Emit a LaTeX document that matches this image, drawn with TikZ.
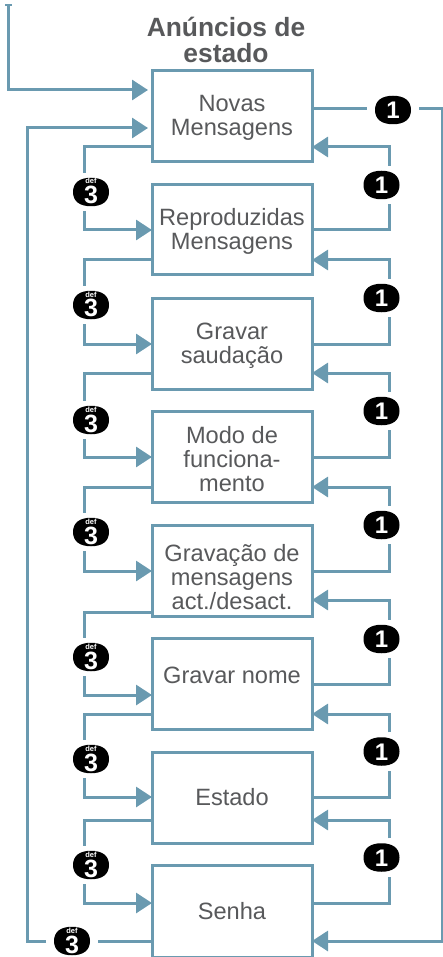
\documentclass[tikz,border=0pt]{standalone}
\usepackage{fontspec}
\setmainfont{Liberation Sans}
\usetikzlibrary{arrows.meta,calc}
\definecolor{wire}{HTML}{6A9AB0}
\definecolor{ink}{HTML}{58595B}
\tikzset{
  box/.style={draw=wire,line width=3pt,fill=white,minimum width=160pt,anchor=north west,inner sep=0pt,outer sep=0pt},
  boxtext/.style={anchor=center,align=center,inner sep=0pt,text=ink,font=\fontsize{23.6}{24}\selectfont},
  wireline/.style={draw=wire,line width=3pt},
  wirearrow/.style={wireline,-{Triangle[length=16pt,width=20pt]}},
  badge/.style={rectangle,minimum width=52pt,minimum height=38.5pt,inner sep=0pt,outer sep=0pt,text=white,
    path picture={\fill[black,shift={(path picture bounding box.center)}]
      (0,-14.25) .. controls (11,-14.25) and (18,-9.5) .. (18,0)
      .. controls (18,9.5) and (11,14.25) .. (0,14.25)
      .. controls (-11,14.25) and (-18,9.5) .. (-18,0)
      .. controls (-18,-9.5) and (-11,-14.25) .. (0,-14.25) -- cycle;}},
  title/.style={align=center,text=ink,font=\fontsize{26.4}{26}\selectfont\bfseries}
}
\newcommand{\one}{\raisebox{-8.5pt}[0pt][0pt]{\makebox[0pt]{\fontsize{24}{24}\selectfont\bfseries 1}}}
\newcommand{\three}{\raisebox{-12pt}[0pt][0pt]{\makebox[0pt]{\fontsize{25}{25}\selectfont\bfseries 3}}\raisebox{8pt}[0pt][0pt]{\makebox[0pt]{\fontsize{7.5}{7.5}\selectfont\bfseries def}}}
\begin{document}
\begin{tikzpicture}[x=1pt,y=-1pt]
\useasboundingbox (0,0) rectangle (443,957);
\node[title] (head) at (226,40) {Anúncios de\\estado};
% boxes
\node[box,minimum height=91pt] (b1) at (152,71) {};
\node[box,minimum height=90pt] (b2) at (152,185) {};
\node[box,minimum height=91pt] (b3) at (152,298) {};
\node[box,minimum height=91pt] (b4) at (152,411) {};
\node[box,minimum height=91pt] (b5) at (152,525) {};
\node[box,minimum height=91pt] (b6) at (152,638) {};
\node[box,minimum height=91pt] (b7) at (152,752) {};
\node[box,minimum height=92pt] (b8) at (152,865) {};
% box texts
\node[boxtext] (t1) at (232,117.5) {Novas\\Mensagens};
\node[boxtext] (t2) at (232,231.5) {Reproduzidas\\Mensagens};
\node[boxtext] (t3) at (232,345.5) {Gravar\\saudação};
\node[boxtext] (t4) at (232,459) {Modo de\\funciona-\\mento};
\node[boxtext] (t5) at (232,577.5) {Gravação de\\mensagens\\act./desact.};
\node[boxtext] (t6) at (232,675) {Gravar nome};
\node[boxtext] (t7) at (232,797.5) {Estado};
\node[boxtext] (t8) at (232,911) {Senha};
% left badges
\node[badge] (l1) at (91,192) {\three};
\node[badge] (l2) at (91,305) {\three};
\node[badge] (l3) at (91,420) {\three};
\node[badge] (l4) at (91,532) {\three};
\node[badge] (l5) at (91,657) {\three};
\node[badge] (l6) at (91,759) {\three};
\node[badge] (l7) at (91,865) {\three};
\node[badge] (l8) at (72,941) {\three};
% right badges
\node[badge] (r0) at (393,110) {\one};
\node[badge] (r1) at (381.5,185) {\one};
\node[badge] (r2) at (381.5,298) {\one};
\node[badge] (r3) at (381.5,411) {\one};
\node[badge] (r4) at (381.5,525) {\one};
\node[badge] (r5) at (381.5,639) {\one};
\node[badge] (r6) at (381.5,751.5) {\one};
\node[badge] (r7) at (381.5,857.5) {\one};
% left-hand steps: from box i via badge to box i+1
\foreach \i/\j/\ya/\yb in {1/2/147/230,2/3/260/344,3/4/373/457,4/5/487/571,5/6/612/695,6/7/714/797,7/8/820/903}{
  \draw[wireline] (b\i.west |- 0,\ya) -- (84.5,\ya) -- (84.5,0 |- l\i.north);
  \draw[wirearrow] (84.5,0 |- l\i.south) -- (84.5,\yb) -- (b\j.west |- 0,\yb);
}
% right-hand steps: from box j via badge back to box i
\foreach \i/\j/\ya/\yb in {1/2/230/147,2/3/344/260,3/4/457/373,4/5/571/487,5/6/684/600,6/7/797/714,7/8/903/820}{
  \draw[wireline] (b\j.east |- 0,\ya) -- (389,\ya) -- (389,0 |- r\i.south);
  \draw[wirearrow] (389,0 |- r\i.north) -- (389,\yb) -- (b\i.east |- 0,\yb);
}
% outer loops
\coordinate (start) at (8.3,5);
\draw[draw=wire,line width=1.2pt] (5,5) -- (12,5);
\draw[wirearrow,shorten >=4pt] (start) -- (8.3,90) -- (b1.west |- 0,90);
\draw[wireline] (b1.east |- 0,109) -- (r0.west |- 0,109);
\draw[wirearrow] (r0.east |- 0,109) -- (442.5,109) -- (442.5,941) -- (b8.east |- 0,941);
\draw[wireline] (b8.west |- 0,941) -- (l8.east);
\draw[wirearrow,shorten >=4pt] (l8.west) -- (27.7,941) -- (27.7,128) -- (b1.west |- 0,128);
\end{tikzpicture}
\end{document}
